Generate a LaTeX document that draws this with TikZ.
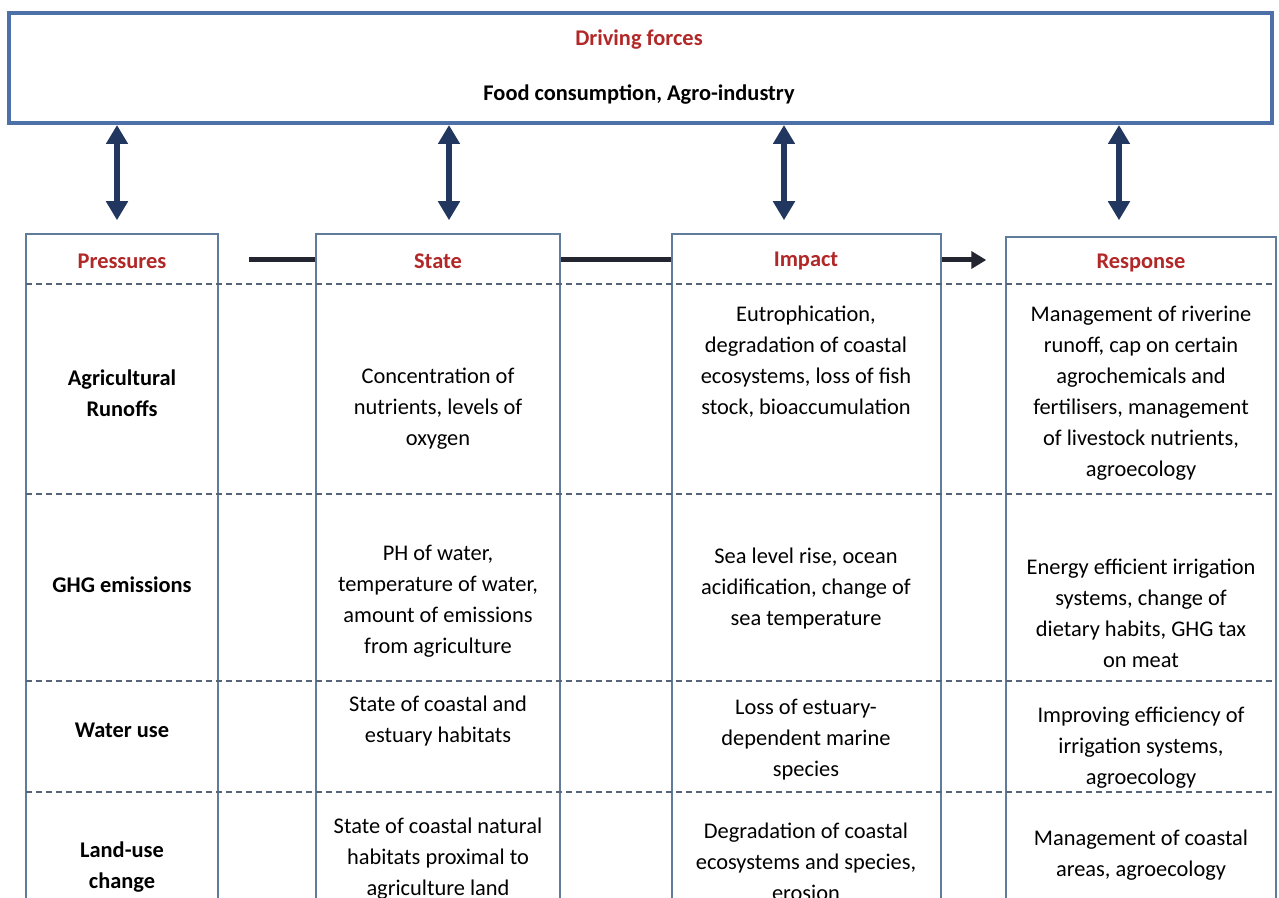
\documentclass[tikz,border=0pt]{standalone}
\usepackage{fontspec}
\setmainfont{Carlito}
\usetikzlibrary{arrows.meta}
\definecolor{hdred}{RGB}{178,40,40}
\definecolor{topblue}{RGB}{78,112,168}
\definecolor{navy}{RGB}{33,55,95}
\definecolor{colline}{RGB}{95,125,155}
\definecolor{dashc}{RGB}{85,100,120}
\definecolor{connc}{RGB}{35,38,48}
\begin{document}
\begin{tikzpicture}[x=0.5pt,y=-0.5pt,
  every node/.style={font=\fontsize{11.2}{15.5}\selectfont, align=center, inner sep=0pt},
  hd/.style={text=hdred, font=\fontsize{11.2}{15.5}\selectfont\bfseries},
  pr/.style={font=\fontsize{11.2}{15.5}\selectfont\bfseries},
  bd/.style={},
  colbox/.style={draw=colline, line width=0.75pt, minimum height=383pt},
  dashline/.style={draw=dashc, line width=0.6pt, dash pattern=on 3pt off 2pt},
  darr/.style={draw=navy, line width=3pt, {Triangle[width=10.5pt,length=9.5pt]}-{Triangle[width=10.5pt,length=9.5pt]}},
  conn/.style={draw=connc, line width=2.5pt},
  connarr/.style={conn, -{Triangle[width=8.5pt,length=7.5pt]}}
]
\useasboundingbox (0,0) rectangle (1279,898);
\clip (0,0) rectangle (1279,898);
\fill[white] (0,0) rectangle (1279,898);

% top box
\node[draw=topblue, line width=2pt, minimum width=631.5pt, minimum height=55pt] (D) at (640.5,68) {};
\node[hd] (Dt) at (639,40) {Driving forces};
\node[pr] (Df) at (639,95) {Food consumption, Agro-industry};

% column boxes
\node[colbox, minimum width=96pt] (P) at (122,617) {};
\node[colbox, minimum width=122pt] (S) at (438,617) {};
\node[colbox, minimum width=134.5pt] (I) at (806.5,617) {};
\node[colbox, minimum width=135pt, minimum height=381.5pt] (R) at (1141,618.5) {};

% headers
\node[hd] (Ph) at (122,261) {Pressures};
\node[hd] (Sh) at (438,261) {State};
\node[hd] (Ih) at (806,261) {Impact};
\node[hd] (Rh) at (1141,263) {Response};

% dashed rules
\draw[dashline] (26,284) -- (1276,284);
\draw[dashline] (26,494) -- (1276,494);
\draw[dashline] (26,681) -- (1276,681);
\draw[dashline] (26,792) -- (1276,792);

% vertical double arrows
\coordinate (a1) at (117,0);
\coordinate (a2) at (449,0);
\coordinate (a3) at (784,0);
\coordinate (a4) at (1119,0);
\draw[darr, shorten >=6.5pt] (D.south -| a1) -- (P.north -| a1);
\draw[darr, shorten >=6.5pt] (D.south -| a2) -- (S.north -| a2);
\draw[darr, shorten >=6.5pt] (D.south -| a3) -- (I.north -| a3);
\draw[darr, shorten >=8pt] (D.south -| a4) -- (R.north -| a4);

% horizontal connectors
\coordinate (hy) at (0,260);
\draw[conn, shorten <=15pt] (P.east |- hy) -- (S.west |- hy);
\draw[conn] (S.east |- hy) -- (I.west |- hy);
\draw[connarr, shorten >=9.5pt] (I.east |- hy) -- (R.west |- hy);

% row 1
\node[pr] (p1) at (122,393) {Agricultural\\Runoffs};
\node[bd] (s1) at (438,409) {Concentration of\\nutrients, levels of\\oxygen};
\node[bd] (i1) at (806,362) {Eutrophication,\\degradation of coastal\\ecosystems, loss of fish\\stock, bioaccumulation};
\node[bd] (r1) at (1141,393) {Management of riverine\\runoff, cap on certain\\agrochemicals and\\fertilisers, management\\of livestock nutrients,\\agroecology};

% row 2
\node[pr] (p2) at (122,585) {GHG emissions};
\node[bd] (s2) at (438,601) {PH of water,\\temperature of water,\\amount of emissions\\from agriculture};
\node[bd] (i2) at (806,589) {Sea level rise, ocean\\acidification, change of\\sea temperature};
\node[bd] (r2) at (1141,613) {Energy efficient irrigation\\systems, change of\\dietary habits, GHG tax\\on meat};

% row 3
\node[pr] (p3) at (122,730) {Water use};
\node[bd] (s3) at (438,721) {State of coastal and\\estuary habitats};
\node[bd] (i3) at (806,740) {Loss of estuary-\\dependent marine\\species};
\node[bd] (r3) at (1141,748) {Improving efficiency of\\irrigation systems,\\agroecology};

% row 4
\node[pr] (p4) at (122,867) {Land-use\\change};
\node[bd] (s4) at (438,859) {State of coastal natural\\habitats proximal to\\agriculture land};
\node[bd] (i4) at (806,862) {Degradation of coastal\\ecosystems and species,\\erosion};
\node[bd] (r4) at (1141,855) {Management of coastal\\areas, agroecology};
\end{tikzpicture}
\end{document}
